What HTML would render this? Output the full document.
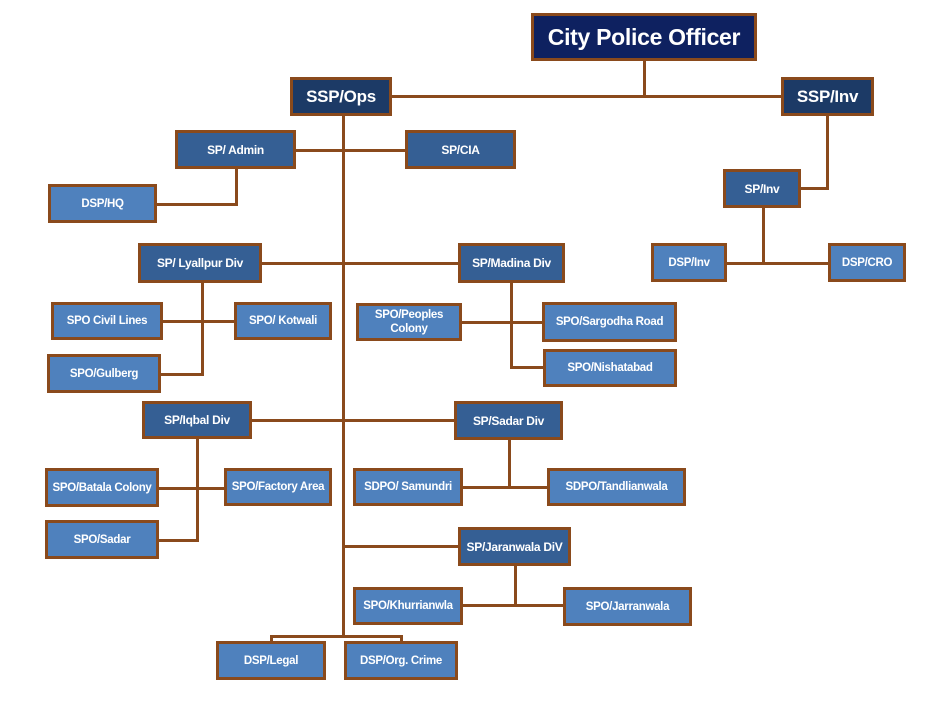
<!DOCTYPE html>
<html><head><meta charset="utf-8"><style>
body{margin:0;background:#fff;width:928px;height:708px;position:relative;overflow:hidden;font-family:"Liberation Sans",sans-serif}
.b{position:absolute;box-sizing:border-box;border:3px solid #8a4a1c;color:#fff;font-weight:bold;display:flex;align-items:center;justify-content:center;text-align:center;font-size:11.5px;line-height:14px;letter-spacing:-0.3px}
.c{background:#0e2160;font-size:23px}
.s{background:#1c3a66;font-size:17px}
.m{background:#355f94;font-size:12px}
.l{background:#4f81bd}
.h{position:absolute;background:#8a4a1c;height:3px}
.v{position:absolute;background:#8a4a1c;width:3px}
</style></head><body>
<div class="v" style="left:342px;top:116px;height:521px"></div>
<div class="h" style="left:392px;top:95px;width:390px"></div>
<div class="v" style="left:643px;top:60px;height:37px"></div>
<div class="v" style="left:826px;top:115px;height:75px"></div>
<div class="h" style="left:800px;top:187px;width:29px"></div>
<div class="h" style="left:296px;top:149px;width:110px"></div>
<div class="v" style="left:235px;top:168px;height:38px"></div>
<div class="h" style="left:156px;top:203px;width:82px"></div>
<div class="v" style="left:762px;top:207px;height:57px"></div>
<div class="h" style="left:726px;top:262px;width:103px"></div>
<div class="h" style="left:261px;top:262px;width:198px"></div>
<div class="v" style="left:201px;top:282px;height:94px"></div>
<div class="h" style="left:160px;top:373px;width:44px"></div>
<div class="h" style="left:162px;top:320px;width:73px"></div>
<div class="v" style="left:510px;top:282px;height:87px"></div>
<div class="h" style="left:461px;top:321px;width:82px"></div>
<div class="h" style="left:510px;top:366px;width:34px"></div>
<div class="h" style="left:251px;top:419px;width:204px"></div>
<div class="v" style="left:196px;top:438px;height:104px"></div>
<div class="h" style="left:158px;top:487px;width:67px"></div>
<div class="h" style="left:158px;top:539px;width:41px"></div>
<div class="v" style="left:508px;top:439px;height:50px"></div>
<div class="h" style="left:462px;top:486px;width:86px"></div>
<div class="h" style="left:343px;top:545px;width:116px"></div>
<div class="v" style="left:514px;top:565px;height:42px"></div>
<div class="h" style="left:462px;top:604px;width:102px"></div>
<div class="h" style="left:270px;top:635px;width:133px"></div>
<div class="v" style="left:270px;top:635px;height:7px"></div>
<div class="v" style="left:400px;top:635px;height:7px"></div>
<div class="b c" style="left:531px;top:13px;width:226px;height:48px">City Police Officer</div>
<div class="b s" style="left:290px;top:77px;width:102px;height:39px">SSP/Ops</div>
<div class="b s" style="left:781px;top:77px;width:93px;height:39px">SSP/Inv</div>
<div class="b m" style="left:175px;top:130px;width:121px;height:39px">SP/ Admin</div>
<div class="b m" style="left:405px;top:130px;width:111px;height:39px">SP/CIA</div>
<div class="b l" style="left:48px;top:184px;width:109px;height:39px">DSP/HQ</div>
<div class="b m" style="left:723px;top:169px;width:78px;height:39px">SP/Inv</div>
<div class="b l" style="left:651px;top:243px;width:76px;height:39px">DSP/Inv</div>
<div class="b l" style="left:828px;top:243px;width:78px;height:39px">DSP/CRO</div>
<div class="b m" style="left:138px;top:243px;width:124px;height:40px">SP/ Lyallpur Div</div>
<div class="b m" style="left:458px;top:243px;width:107px;height:40px">SP/Madina Div</div>
<div class="b l" style="left:51px;top:302px;width:112px;height:38px">SPO Civil Lines</div>
<div class="b l" style="left:234px;top:302px;width:98px;height:38px">SPO/ Kotwali</div>
<div class="b l" style="left:47px;top:354px;width:114px;height:39px">SPO/Gulberg</div>
<div class="b l" style="left:356px;top:303px;width:106px;height:38px">SPO/Peoples Colony</div>
<div class="b l" style="left:542px;top:302px;width:135px;height:40px">SPO/Sargodha Road</div>
<div class="b l" style="left:543px;top:349px;width:134px;height:38px">SPO/Nishatabad</div>
<div class="b m" style="left:142px;top:401px;width:110px;height:38px">SP/Iqbal Div</div>
<div class="b m" style="left:454px;top:401px;width:109px;height:39px">SP/Sadar Div</div>
<div class="b l" style="left:45px;top:468px;width:114px;height:39px">SPO/Batala Colony</div>
<div class="b l" style="left:224px;top:468px;width:108px;height:38px">SPO/Factory Area</div>
<div class="b l" style="left:353px;top:468px;width:110px;height:38px">SDPO/ Samundri</div>
<div class="b l" style="left:547px;top:468px;width:139px;height:38px">SDPO/Tandlianwala</div>
<div class="b l" style="left:45px;top:520px;width:114px;height:39px">SPO/Sadar</div>
<div class="b m" style="left:458px;top:527px;width:113px;height:39px">SP/Jaranwala DiV</div>
<div class="b l" style="left:353px;top:587px;width:110px;height:38px">SPO/Khurrianwla</div>
<div class="b l" style="left:563px;top:587px;width:129px;height:39px">SPO/Jarranwala</div>
<div class="b l" style="left:216px;top:641px;width:110px;height:39px">DSP/Legal</div>
<div class="b l" style="left:344px;top:641px;width:114px;height:39px">DSP/Org. Crime</div>
</body></html>
